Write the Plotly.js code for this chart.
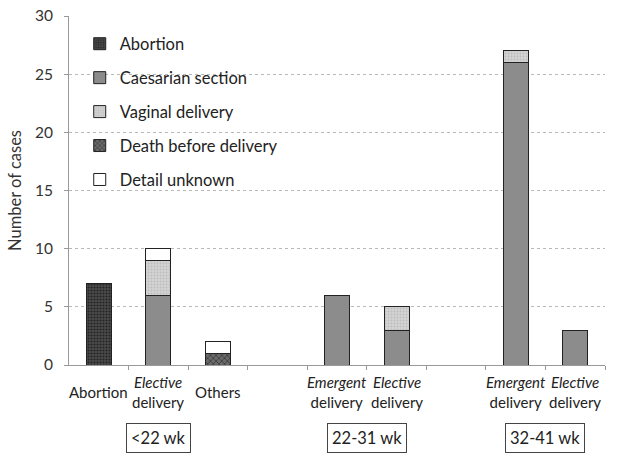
<!DOCTYPE html>
<html>
<head>
<meta charset="utf-8">
<script src="https://cdn.plot.ly/plotly-3.0.1.min.js"></script>
<style>html,body{margin:0;padding:0;background:#fff;}#chart{width:622px;height:456px;}</style>
</head>
<body>
<div id="chart"></div>
<script>
// Slots along the x axis (empty strings are gaps between groups)
const slotLabels = ['Abortion', '<i>Elective</i><br>delivery', 'Others', '', '<i>Emergent</i><br>delivery', '<i>Elective</i><br>delivery', '', '<i>Emergent</i><br>delivery', '<i>Elective</i><br>delivery'];
const abortion   = [7, null, null, null, null, null, null, null, null];
const caesarian  = [null, 6, null, null, 6, 3, null, 26, 3];
const vaginal    = [null, 3, null, null, null, 2, null, 1, null];
const death      = [null, null, 1, null, null, null, null, null, null];
const unknown    = [null, 1, 1, null, null, null, null, null, null];
const groupLabels = ['<22 wk', '22-31 wk', '32-41 wk'];
const groupSlots  = [[0, 1, 2], [4, 5], [7, 8]];
const yTicks = [0, 5, 10, 15, 20, 25, 30];

const FONT = 'Lato, "Open Sans", sans-serif';
const xs = slotLabels.map((_, i) => i);
const line = {color: '#222', width: 1};

function tr(name, y, color, pattern) {
  const marker = {color: color, line: line};
  if (pattern) marker.pattern = pattern;
  return {type: 'bar', name: name, x: xs, y: y, marker: marker, width: 0.42,
          legendgroup: name, hoverinfo: 'skip'};
}

const data = [
  tr('Abortion', abortion, '#454545', {shape: '.', fgcolor: '#222222', bgcolor: '#4c4c4c', size: 3, solidity: 0.4}),
  tr('Caesarian section', caesarian, '#8c8c8c'),
  tr('Vaginal delivery', vaginal, '#d0d0d0', {shape: '.', fgcolor: '#bcbcbc', bgcolor: '#d4d4d4', size: 3, solidity: 0.3}),
  tr('Death before delivery', death, '#5a5a5a', {shape: 'x', fgcolor: '#2e2e2e', bgcolor: '#6a6a6a', size: 4, solidity: 0.3}),
  tr('Detail unknown', unknown, '#ffffff')
];

const annotations = [];
slotLabels.forEach((t, i) => {
  if (!t) return;
  annotations.push({text: t, x: i, xref: 'x', y: 0, yref: 'paper', yanchor: 'middle',
    xanchor: 'center', yshift: -27, showarrow: false, align: 'center',
    font: {family: FONT, size: 15, color: '#222'}});
});
groupLabels.forEach((g, k) => {
  const s = groupSlots[k];
  const cx = s.reduce((a, b) => a + b, 0) / s.length;
  annotations.push({text: g, x: cx, xref: 'x', y: 0, yref: 'paper', yanchor: 'middle',
    xanchor: 'center', yshift: -73, showarrow: false, bordercolor: '#444',
    borderwidth: 1, borderpad: 4, font: {family: FONT, size: 16.5, color: '#222'}});
});

const boundaries = slotLabels.map((_, i) => i + 0.5);

const layout = {
  width: 622, height: 456,
  margin: {l: 69, r: 17, t: 16, b: 91},
  paper_bgcolor: '#fff', plot_bgcolor: '#fff',
  barmode: 'stack',
  showlegend: true,
  legend: {x: 0.02, y: 0.97, xanchor: 'left', yanchor: 'top', traceorder: 'grouped',
    tracegroupgap: 9.5, bgcolor: 'rgba(0,0,0,0)',
    font: {family: FONT, size: 16.5, color: '#222'}},
  xaxis: {range: [-0.5, 8.5], showgrid: false, zeroline: false, showline: true,
    linecolor: '#999', linewidth: 1, tickvals: boundaries, ticktext: boundaries.map(() => ''),
    ticks: 'outside', ticklen: 4, tickcolor: '#999', showticklabels: false, fixedrange: true},
  yaxis: {range: [0, 30], tickvals: yTicks, showgrid: true, gridcolor: '#b8b8b8',
    griddash: 'dot', gridwidth: 1, zeroline: false, showline: true, linecolor: '#999',
    ticks: 'outside', ticklen: 4, tickcolor: '#999', ticklabelstandoff: 8,
    tickfont: {family: FONT, size: 15.5, color: '#333'},
    title: {text: 'Number of cases', font: {family: FONT, size: 16.5, color: '#333'}, standoff: 9},
    fixedrange: true},
  annotations: annotations
};

Plotly.newPlot('chart', data, layout, {staticPlot: true, displayModeBar: false});
</script>
</body>
</html>
